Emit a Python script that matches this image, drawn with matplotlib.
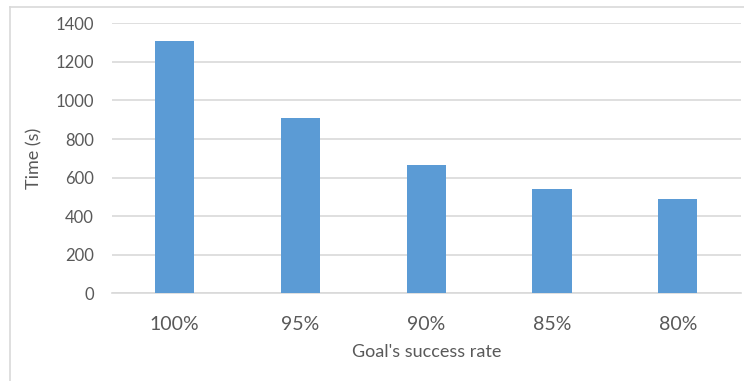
import matplotlib
matplotlib.use('Agg')
import matplotlib.pyplot as plt
from matplotlib.lines import Line2D

rates = ['100%', '95%', '90%', '85%', '80%']
times = [1310, 910, 663, 543, 488]
yticks = [0, 200, 400, 600, 800, 1000, 1200, 1400]

BAR = '#5B9BD5'
GRID = '#D9D9D9'
TEXT = '#595959'

plt.rcParams['font.family'] = ['Lato', 'DejaVu Sans']

fig = plt.figure(figsize=(7.44, 3.81), dpi=100)
ax = fig.add_axes([0.1503, 0.2302, 0.8451, 0.7086])

x = range(len(rates))
ax.bar(x, times, width=0.3125, color=BAR, zorder=3)

ax.set_xlim(-0.5, len(rates) - 0.5)
ax.set_ylim(0, 1400)
ax.set_yticks(yticks)
ax.set_xticks(list(x))
ax.set_xticklabels(rates)

ax.yaxis.grid(True, color=GRID, linewidth=1.2, zorder=0)
for side in ['top', 'right', 'left']:
    ax.spines[side].set_visible(False)
ax.spines['bottom'].set_color(GRID)
ax.spines['bottom'].set_linewidth(1.2)
ax.tick_params(axis='both', length=0, colors=TEXT)
ax.tick_params(axis='y', labelsize=12, pad=13)
ax.tick_params(axis='x', labelsize=14, pad=16)

ax.set_xlabel("Goal's success rate", fontsize=13, color=TEXT, labelpad=8)
ax.set_ylabel('Time (s)', fontsize=13, color=TEXT, labelpad=9)

# chart frame, only top and left edges fall inside the canvas
fig.add_artist(Line2D([10 / 744, 1], [1 - 6.7 / 381] * 2, color=GRID, lw=1.2,
                      transform=fig.transFigure))
fig.add_artist(Line2D([10 / 744] * 2, [0, 1 - 6.7 / 381], color=GRID, lw=1.2,
                      transform=fig.transFigure))

fig.savefig('out.png', dpi=100)
